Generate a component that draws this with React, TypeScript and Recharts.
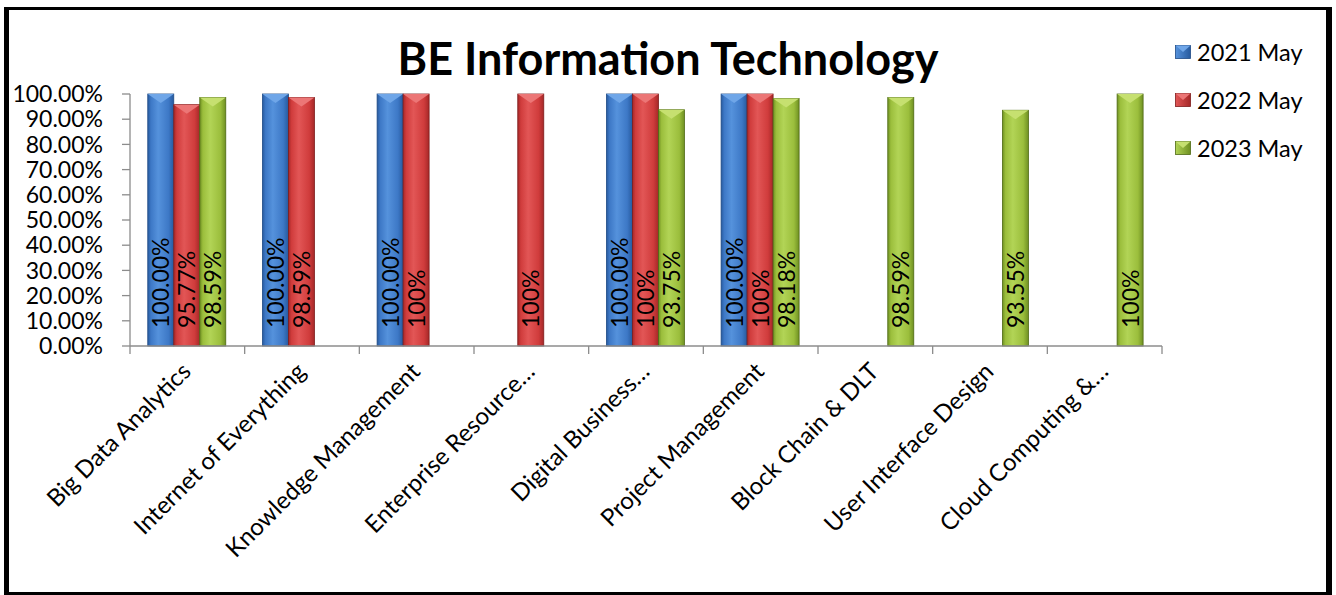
import React from 'react';
import { BarChart, Bar, XAxis, YAxis, LabelList } from 'recharts';

const categories = [
  'Big Data Analytics',
  'Internet of Everything',
  'Knowledge Management',
  'Enterprise Resource…',
  'Digital Business…',
  'Project Management',
  'Block Chain & DLT',
  'User Interface Design',
  'Cloud Computing &…',
];
const may2021 = [1, 1, 1, null, 1, 1, null, null, null];
const may2022 = [0.9577, 0.9859, 1, 1, 1, 1, null, null, null];
const may2023 = [0.9859, null, null, null, 0.9375, 0.9818, 0.9859, 0.9355, 1];
const seriesNames = ['2021 May', '2022 May', '2023 May'];
const yTicks = [0, 0.1, 0.2, 0.3, 0.4, 0.5, 0.6, 0.7, 0.8, 0.9, 1];

const FONT = 'Lato, "Open Sans", sans-serif';
const AXIS_GRAY = '#8c8c8c';

const palette = [
  { id: 'b', light: '#5592DC', mid: '#3D78C6', dark: '#275A9E', top: '#6FA6E8', edge: '#1F4A85' },
  { id: 'r', light: '#E25656', mid: '#D03C3C', dark: '#A52828', top: '#EC7676', edge: '#7E1C1C' },
  { id: 'g', light: '#B2D456', mid: '#9BBE3C', dark: '#6F9022', top: '#C6E070', edge: '#4F6A14' },
];

const data = categories.map((name, i) => ({
  name,
  s2021: may2021[i],
  s2022: may2022[i],
  s2023: may2023[i],
}));

const fmt2021 = (v: number) => (v * 100).toFixed(2) + '%';
const fmtOther = (v: number) => (v === 1 ? '100%' : (v * 100).toFixed(2) + '%');
const formatters = [fmt2021, fmtOther, fmtOther];

const makeShape = (c: any) => (props: any) => {
  const { x, y, width, height, value } = props;
  if (value == null || !height || height <= 0) return <g />;
  const bev = Math.min(9, height);
  return (
    <g>
      <rect x={x} y={y} width={width} height={height} fill={`url(#grad-${c.id})`} stroke={c.edge} strokeWidth={0.8} />
      <polygon points={`${x},${y} ${x + width},${y} ${x + width / 2},${y + bev}`} fill={c.top} />
    </g>
  );
};

const makeLabel = (fmt: (v: number) => string) => (props: any) => {
  const { x, y, width, height, value } = props;
  if (value == null) return null;
  const cx = x + width / 2 + 8.5;
  const by = y + height - 18;
  return (
    <text
      x={cx}
      y={by}
      transform={`rotate(-90, ${cx}, ${by})`}
      fontSize={23}
      fontFamily={FONT}
      fill="#000"
      textAnchor="start"
    >
      {fmt(value)}
    </text>
  );
};

const CatTick = (props: any) => {
  const { x, y, payload, index, visibleTicksCount, width } = props;
  const half =
    payload && typeof payload.offset === 'number' && payload.offset > 0
      ? payload.offset
      : width / (2 * visibleTicksCount);
  const ax = x + 5;
  const ay = y + 27;
  return (
    <g>
      <line x1={x - half} y1={y} x2={x - half} y2={y + 8} stroke={AXIS_GRAY} strokeWidth={1.3} />
      {index === visibleTicksCount - 1 ? (
        <line x1={x + half} y1={y} x2={x + half} y2={y + 8} stroke={AXIS_GRAY} strokeWidth={1.3} />
      ) : null}
      <text
        x={ax}
        y={ay}
        textAnchor="end"
        transform={`rotate(-45, ${ax}, ${ay})`}
        fontSize={24}
        fontFamily={FONT}
        fill="#000"
      >
        {payload.value}
      </text>
    </g>
  );
};

const LegendIcon = ({ c }: { c: any }) => (
  <svg width={16} height={14} style={{ display: 'block' }}>
    <defs>
      <linearGradient id={`lg-${c.id}`} x1="0" y1="0" x2="1" y2="0">
        <stop offset="0%" stopColor={c.light} />
        <stop offset="100%" stopColor={c.dark} />
      </linearGradient>
    </defs>
    <rect x={0.5} y={0.5} width={15} height={13} fill={`url(#lg-${c.id})`} stroke={c.edge} strokeWidth={0.8} />
    <polygon points="0.5,0.5 15.5,0.5 8,7" fill={c.top} />
  </svg>
);

export default function App() {
  const keys = ['s2021', 's2022', 's2023'];
  return (
    <div style={{ position: 'relative', width: 1336, height: 595, background: '#fff', fontFamily: FONT }}>
      <style>{'body{margin:0}'}</style>
      <div
        style={{
          position: 'absolute',
          left: 4,
          top: 7,
          width: 1328,
          height: 588,
          boxSizing: 'border-box',
          borderTop: '3px solid #000',
          borderRight: '6px solid #000',
          borderBottom: '3px solid #000',
          borderLeft: '5px solid #000',
        }}
      />
      <div
        style={{
          position: 'absolute',
          left: 0,
          top: 30,
          width: 1336,
          textAlign: 'center',
          fontSize: 45,
          fontWeight: 700,
          lineHeight: '56px',
          color: '#000',
        }}
      >
        BE Information Technology
      </div>
      <div style={{ position: 'absolute', left: 1175, top: 28 }}>
        {seriesNames.map((n, i) => (
          <div key={n} style={{ display: 'flex', alignItems: 'center', height: 48 }}>
            <LegendIcon c={palette[i]} />
            <span style={{ marginLeft: 6, fontSize: 23.5, color: '#000' }}>{n}</span>
          </div>
        ))}
      </div>
      <div style={{ position: 'absolute', left: 0, top: 0 }}>
        <BarChart
          width={1336}
          height={595}
          data={data}
          margin={{ top: 94, right: 174, left: 10, bottom: 0 }}
          barCategoryGap="15.5%"
          barGap={0}
        >
          <defs>
            {palette.map((c) => (
              <linearGradient key={c.id} id={`grad-${c.id}`} x1="0" y1="0" x2="1" y2="0">
                <stop offset="0%" stopColor={c.dark} />
                <stop offset="12%" stopColor={c.mid} />
                <stop offset="40%" stopColor={c.light} />
                <stop offset="80%" stopColor={c.mid} />
                <stop offset="100%" stopColor={c.dark} />
              </linearGradient>
            ))}
          </defs>
          <XAxis
            dataKey="name"
            interval={0}
            axisLine={{ stroke: AXIS_GRAY, strokeWidth: 1.3 }}
            tickLine={false}
            tickSize={0}
            tickMargin={0}
            height={249}
            tick={<CatTick />}
          />
          <YAxis
            domain={[0, 1]}
            ticks={yTicks}
            interval={0}
            tickFormatter={(v: number) => (v * 100).toFixed(2) + '%'}
            tickSize={8}
            tickMargin={19}
            width={120}
            axisLine={{ stroke: AXIS_GRAY, strokeWidth: 1.3 }}
            tickLine={{ stroke: AXIS_GRAY, strokeWidth: 1.3 }}
            tick={{ fill: '#000', fontSize: 23, fontFamily: FONT }}
          />
          {keys.map((k, i) => (
            <Bar
              key={k}
              dataKey={k}
              name={seriesNames[i]}
              isAnimationActive={false}
              shape={makeShape(palette[i])}
            >
              <LabelList dataKey={k} content={makeLabel(formatters[i])} />
            </Bar>
          ))}
        </BarChart>
      </div>
    </div>
  );
}
